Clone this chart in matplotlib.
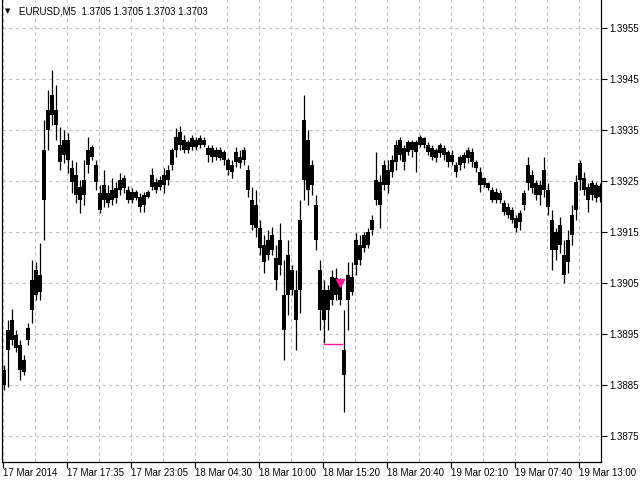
import numpy as np
import matplotlib
matplotlib.use("Agg")
import matplotlib.pyplot as plt

plt.rcParams["font.family"] = ["Liberation Sans", "DejaVu Sans"]

symbol = "EURUSD,M5"
last_quote = [1.3705, 1.3705, 1.3703, 1.3703]

# one entry per drawn bar (left to right)
highs = [1.38889, 1.38977, 1.38999, 1.38958, 1.38938, 1.38908, 1.38971, 1.39095, 1.39091, 1.39129,
         1.39370, 1.39429, 1.39468, 1.39439, 1.39356, 1.39351, 1.39345, 1.39292, 1.39288, 1.39252,
         1.39292, 1.39337, 1.39321, 1.39292, 1.39242, 1.39272, 1.39242, 1.39256, 1.39248, 1.39266,
         1.39262, 1.39241, 1.39237, 1.39233, 1.39227, 1.39229, 1.39233, 1.39276, 1.39256, 1.39260,
         1.39276, 1.39282, 1.39315, 1.39354, 1.39358, 1.39341, 1.39331, 1.39341, 1.39337, 1.39341,
         1.39337, 1.39321, 1.39321, 1.39317, 1.39317, 1.39311, 1.39296, 1.39292, 1.39317, 1.39311,
         1.39317, 1.39282, 1.39239, 1.39233, 1.39174, 1.39144, 1.39154, 1.39160, 1.39125, 1.39168,
         1.39095, 1.39134, 1.39085, 1.39075, 1.39213, 1.39419, 1.39351, 1.39292, 1.39223, 1.39095,
         1.39056, 1.39046, 1.39075, 1.39079, 1.39060, 1.38997, 1.39091, 1.39091, 1.39148, 1.39144,
         1.39150, 1.39158, 1.39184, 1.39307, 1.39262, 1.39292, 1.39292, 1.39301, 1.39331, 1.39337,
         1.39321, 1.39331, 1.39331, 1.39331, 1.39341, 1.39337, 1.39327, 1.39321, 1.39315, 1.39325,
         1.39321, 1.39311, 1.39311, 1.39288, 1.39301, 1.39307, 1.39317, 1.39315, 1.39292, 1.39278,
         1.39258, 1.39248, 1.39239, 1.39237, 1.39233, 1.39213, 1.39207, 1.39199, 1.39184, 1.39193,
         1.39233, 1.39297, 1.39272, 1.39252, 1.39252, 1.39297, 1.39246, 1.39193, 1.39158, 1.39180,
         1.39134, 1.39154, 1.39203, 1.39262, 1.39292, 1.39268, 1.39246, 1.39252, 1.39248, 1.39246]

lows = [1.38840, 1.38846, 1.38928, 1.38914, 1.38859, 1.38869, 1.38928, 1.38971, 1.39016, 1.39016,
        1.39134, 1.39311, 1.39360, 1.39331, 1.39272, 1.39286, 1.39266, 1.39227, 1.39207, 1.39187,
        1.39203, 1.39266, 1.39292, 1.39233, 1.39187, 1.39199, 1.39199, 1.39203, 1.39207, 1.39223,
        1.39227, 1.39207, 1.39207, 1.39213, 1.39189, 1.39189, 1.39217, 1.39233, 1.39227, 1.39233,
        1.39227, 1.39242, 1.39272, 1.39297, 1.39311, 1.39305, 1.39305, 1.39311, 1.39311, 1.39315,
        1.39317, 1.39288, 1.39288, 1.39292, 1.39292, 1.39282, 1.39262, 1.39256, 1.39278, 1.39276,
        1.39282, 1.39219, 1.39154, 1.39140, 1.39105, 1.39070, 1.39095, 1.39105, 1.39036, 1.39066,
        1.38899, 1.38987, 1.39026, 1.38918, 1.38991, 1.39213, 1.39203, 1.39223, 1.39115, 1.38958,
        1.38932, 1.38958, 1.39007, 1.39016, 1.39007, 1.38796, 1.38958, 1.39026, 1.39066, 1.39085,
        1.39111, 1.39119, 1.39144, 1.39203, 1.39158, 1.39233, 1.39227, 1.39258, 1.39272, 1.39292,
        1.39272, 1.39301, 1.39297, 1.39268, 1.39317, 1.39315, 1.39301, 1.39292, 1.39288, 1.39297,
        1.39292, 1.39278, 1.39282, 1.39258, 1.39272, 1.39276, 1.39286, 1.39278, 1.39268, 1.39229,
        1.39239, 1.39233, 1.39209, 1.39207, 1.39207, 1.39184, 1.39178, 1.39168, 1.39150, 1.39154,
        1.39193, 1.39233, 1.39227, 1.39213, 1.39203, 1.39219, 1.39184, 1.39075, 1.39095, 1.39109,
        1.39050, 1.39070, 1.39125, 1.39174, 1.39233, 1.39223, 1.39189, 1.39213, 1.39209, 1.39209]

opens = [1.38879, 1.38958, 1.38977, 1.38948, 1.38928, 1.38899, 1.38961, 1.39056, 1.39075, 1.39066,
         1.39311, 1.39390, 1.39419, 1.39390, 1.39321, 1.39331, 1.39331, 1.39276, 1.39262, 1.39239,
         1.39252, 1.39311, 1.39317, 1.39282, 1.39227, 1.39242, 1.39227, 1.39233, 1.39237, 1.39252,
         1.39256, 1.39233, 1.39229, 1.39229, 1.39219, 1.39223, 1.39229, 1.39262, 1.39248, 1.39252,
         1.39262, 1.39272, 1.39311, 1.39337, 1.39347, 1.39331, 1.39327, 1.39335, 1.39331, 1.39335,
         1.39331, 1.39315, 1.39315, 1.39311, 1.39311, 1.39307, 1.39292, 1.39282, 1.39307, 1.39297,
         1.39311, 1.39272, 1.39213, 1.39203, 1.39158, 1.39125, 1.39134, 1.39144, 1.39099, 1.39134,
         1.39026, 1.39105, 1.39075, 1.39036, 1.39174, 1.39370, 1.39331, 1.39282, 1.39203, 1.39075,
         1.39036, 1.39036, 1.39062, 1.39060, 1.39052, 1.38918, 1.39066, 1.39062, 1.39134, 1.39125,
         1.39144, 1.39150, 1.39174, 1.39252, 1.39248, 1.39282, 1.39272, 1.39292, 1.39321, 1.39331,
         1.39315, 1.39327, 1.39327, 1.39327, 1.39337, 1.39335, 1.39321, 1.39315, 1.39311, 1.39321,
         1.39315, 1.39307, 1.39301, 1.39282, 1.39297, 1.39301, 1.39311, 1.39307, 1.39288, 1.39268,
         1.39256, 1.39246, 1.39233, 1.39229, 1.39227, 1.39207, 1.39199, 1.39193, 1.39178, 1.39187,
         1.39227, 1.39282, 1.39262, 1.39246, 1.39242, 1.39272, 1.39233, 1.39174, 1.39150, 1.39164,
         1.39105, 1.39134, 1.39184, 1.39248, 1.39286, 1.39256, 1.39239, 1.39246, 1.39242, 1.39241]

closes = [1.38849, 1.38918, 1.38938, 1.38922, 1.38879, 1.38875, 1.38938, 1.38997, 1.39026, 1.39032,
          1.39213, 1.39351, 1.39380, 1.39360, 1.39288, 1.39301, 1.39292, 1.39248, 1.39223, 1.39213,
          1.39223, 1.39282, 1.39297, 1.39248, 1.39193, 1.39213, 1.39207, 1.39213, 1.39217, 1.39233,
          1.39237, 1.39213, 1.39213, 1.39217, 1.39199, 1.39203, 1.39219, 1.39239, 1.39233, 1.39239,
          1.39242, 1.39252, 1.39282, 1.39311, 1.39321, 1.39311, 1.39311, 1.39317, 1.39317, 1.39321,
          1.39321, 1.39301, 1.39297, 1.39297, 1.39296, 1.39292, 1.39272, 1.39268, 1.39288, 1.39286,
          1.39292, 1.39233, 1.39164, 1.39158, 1.39119, 1.39091, 1.39105, 1.39115, 1.39056, 1.39085,
          1.38958, 1.39026, 1.39036, 1.38977, 1.39036, 1.39252, 1.39233, 1.39242, 1.39134, 1.38997,
          1.38977, 1.38997, 1.39016, 1.39026, 1.39016, 1.38869, 1.39016, 1.39032, 1.39085, 1.39095,
          1.39119, 1.39125, 1.39154, 1.39213, 1.39203, 1.39242, 1.39242, 1.39268, 1.39288, 1.39301,
          1.39288, 1.39307, 1.39311, 1.39307, 1.39321, 1.39321, 1.39307, 1.39297, 1.39296, 1.39305,
          1.39301, 1.39288, 1.39288, 1.39268, 1.39282, 1.39286, 1.39296, 1.39288, 1.39276, 1.39242,
          1.39242, 1.39237, 1.39213, 1.39213, 1.39213, 1.39189, 1.39184, 1.39174, 1.39158, 1.39170,
          1.39203, 1.39246, 1.39237, 1.39223, 1.39223, 1.39233, 1.39199, 1.39115, 1.39115, 1.39125,
          1.39066, 1.39091, 1.39144, 1.39193, 1.39252, 1.39233, 1.39213, 1.39223, 1.39217, 1.39219]

time_labels = ["17 Mar 2014", "17 Mar 17:35", "17 Mar 23:05", "18 Mar 04:30", "18 Mar 10:00",
               "18 Mar 15:20", "18 Mar 20:40", "19 Mar 02:10", "19 Mar 07:40", "19 Mar 13:00"]
price_ticks = [1.3875, 1.3885, 1.3895, 1.3905, 1.3915, 1.3925, 1.3935, 1.3945, 1.3955]

# trade marks (pink)
trade_bar = 84
trade_arrow_price = 1.39050
trade_line_price = 1.38930
trade_line_from = 79.75

fig = plt.figure(figsize=(6.4, 4.8), dpi=100)
ax = fig.add_axes([2/640, 18/480, 599/640, 462/480])

x = np.arange(len(highs))
o = np.array(opens)
c = np.array(closes)
ax.vlines(x, lows, highs, color="black", lw=0.9, zorder=3)
ax.bar(x, o - c, bottom=c, width=1.0, color="black", linewidth=0, zorder=3)

ax.hlines(trade_line_price, trade_line_from, trade_bar + 0.75, color="#ff1493", lw=1.0, zorder=4)
ax.plot(trade_bar, trade_arrow_price, marker="v", color="#ff1493", markersize=6, zorder=5)

ax.set_xlim(-0.5, 149.25)
ax.set_ylim(1.38698, 1.39606)

major_x = np.arange(len(time_labels)) * 16 - 0.25
minor_x = np.arange(1, 19, 2) * 8 - 0.25
ax.set_xticks(major_x)
ax.set_xticklabels(time_labels, ha="left", fontsize=7)
ax.set_xticks(minor_x, minor=True)
ax.tick_params(axis="x", which="major", length=4, width=0.8, pad=0.5)
ax.tick_params(axis="x", which="minor", length=0)

ax.yaxis.tick_right()
ax.set_yticks(price_ticks)
ax.set_yticklabels([f"{p:.4f}" for p in price_ticks], fontsize=7)
ax.tick_params(axis="y", length=4, width=0.8, pad=2)

ax.grid(True, which="both", color="#c0c0c0", linestyle=(0, (3, 3)), lw=0.8, zorder=0)
ax.set_axisbelow(True)

for s in ["left", "right", "bottom"]:
    ax.spines[s].set_linewidth(0.9)
ax.spines["top"].set_visible(False)

fig.text(8/640, 1 - 11/480, "\u25bc", fontsize=5, va="center", ha="center", family="DejaVu Sans")
fig.text(19/640, 1 - 11/480, symbol + "  " + " ".join(f"{q:.4f}" for q in last_quote),
         fontsize=7, va="center", ha="left")

fig.savefig("out.png", dpi=100)
